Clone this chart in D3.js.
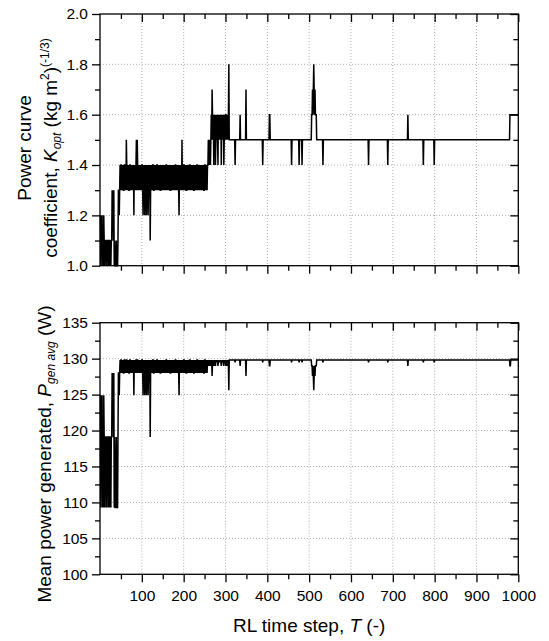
<!DOCTYPE html>
<html>
<head>
<meta charset="utf-8">
<script src="https://cdn.jsdelivr.net/npm/d3@7"></script>
<style>
body { margin: 0; background: #fff; }
svg { display: block; font-family: "Liberation Sans", Arial, sans-serif; }
.tick text { font-size: 15.5px; fill: #000; }
.tick line { stroke: #000; stroke-width: 1.3; }
.grid line { stroke: #b0b0b0; stroke-width: 1; stroke-dasharray: 1,2; }
.axis-title { font-size: 19px; fill: #000; }
</style>
</head>
<body>
<div class="chart"></div>
<script>
var width = 549;
var height = 641;
var plotLeft = 100, plotRight = 518.3;
var topPanel = {top: 14, bottom: 265.7};
var bottomPanel = {top: 322.7, bottom: 574.3};

// value of each code digit used in the step rows below
var kLevels = [1.0, 1.1, 1.2, 1.3, 1.4, 1.5, 1.6, 1.7, 1.8];
var powerLevels = [109.3, 119.1, 124.9, 125.6, 127.6, 128.0, 129.0, 129.5, 129.8];

// one digit per RL time step (T = 1..1000), 50 steps per row
var kRows = [
  "2021201021 0111010111 0110101132 3130100010 0013323434",
  "4343433443 4354343433 4434343434 2434345354 3434343434",
  "4324342343 2434234341 3434344334 3434344343 4343343434",
  "3434343443 4343434334 3434343434 4343434324 3434353434",
  "4343433434 3434434343 4343343434 3443434343 4343434334",
  "4343434454 5454565765 6465645656 5465656564 6565645656",
  "6565656855 5555555555 5545555555 5555655555 5555555575",
  "5555555555 5555555555 5555555555 5555555545 5555555555",
  "5555665555 5555555555 5555555555 5555555555 5555555555",
  "5555555455 5555555555 5555545555 5545555555 5555555555",
  "5555566767 8767666555 5555555555 5545555555 5555555555",
  "5555555555 5555555555 5555555555 5555555555 5555555555",
  "5555555555 5555555555 5555555555 5555555555 5455555555",
  "5555555555 5555555555 5555555555 5555555455 5555555555",
  "5555555555 5555555555 5555555555 5555565555 5555555555",
  "5555555555 5555555555 5545555555 5555555555 5555555545",
  "5555555555 5555555555 5555555555 5555555555 5555555555",
  "5555555555 5555555555 5555555555 5555555555 5555555555",
  "5555555555 5555555555 5555555555 5555555555 5555555555",
  "5555555555 5555555555 5555555556 6666666666 6666666666"
];
var powerRows = [
  "2021201021 0111010111 0110101152 5150100010 0015525858",
  "8585855885 8588585855 8858585858 2858588588 5858585858",
  "8528582585 2858258581 5858588558 5858588585 8585585858",
  "5858585885 8585858558 5858585858 8585858528 5858585858",
  "8585855858 5858858585 8585585858 5885858585 8585858558",
  "8585858686 8686878478 7678768787 8678787876 7878768787",
  "6868686388 8888888888 8878888888 8888688888 8888888848",
  "8888888888 8888888888 8888888888 8888888878 8888888888",
  "8888668888 8888888888 8888888888 8888888888 8888888888",
  "8888888788 8888888888 8888878888 8878888888 8888888888",
  "8888866464 3464666888 8888888888 8878888888 8888888888",
  "8888888888 8888888888 8888888888 8888888888 8888888888",
  "8888888888 8888888888 8888888888 8888888888 8788888888",
  "8888888888 8888888888 8888888888 8888888788 8888888888",
  "8888888888 8888888888 8888888888 8888868888 8888888888",
  "8888888888 8888888888 8878888888 8888888888 8888888878",
  "8888888888 8888888888 8888888888 8888888888 8888888888",
  "8888888888 8888888888 8888888888 8888888888 8888888888",
  "8888888888 8888888888 8888888888 8888888888 8888888888",
  "8888888888 8888888888 8888888886 6888888888 8888888888"
];

var xMajorTicks = [100, 200, 300, 400, 500, 600, 700, 800, 900, 1000];
var xMinorTicks = [50, 150, 250, 350, 450, 550, 650, 750, 850, 950];
var kMajorTicks = [1.0, 1.2, 1.4, 1.6, 1.8, 2.0];
var kMinorTicks = [1.1, 1.3, 1.5, 1.7, 1.9];
var powerMajorTicks = [100, 105, 110, 115, 120, 125, 130, 135];
var powerMinorTicks = [102.5, 107.5, 112.5, 117.5, 122.5, 127.5, 132.5];

function decodeRows(rows, levels) {
	return rows.join("").replace(/ /g, "").split("").map(function(c, i) {
		return {t: i + 1, v: levels[+c]};
	});
}

var svg = d3.select(".chart")
			.append("svg")
				.attr("width", width)
				.attr("height", height);
svg.append("rect").attr("width", width).attr("height", height).attr("fill", "#fff");

var x = d3.scaleLinear().domain([0, 1000]).range([plotLeft, plotRight]);

function dropDomain(g) { g.select(".domain").remove(); }

function drawPanel(panel, y, data, majorY, minorY, fmt, showXLabels) {
	var g = svg.append("g");
	//dotted grid
	var grid = g.append("g").attr("class", "grid");
	grid.selectAll("line.v")
		.data(xMajorTicks.filter(function(d) { return d < 1000; }))
		.enter().append("line")
			.attr("class", "v")
			.attr("x1", function(d) { return x(d); })
			.attr("x2", function(d) { return x(d); })
			.attr("y1", panel.top)
			.attr("y2", panel.bottom);
	grid.selectAll("line.h")
		.data(majorY.slice(1, -1))
		.enter().append("line")
			.attr("class", "h")
			.attr("x1", plotLeft)
			.attr("x2", plotRight)
			.attr("y1", function(d) { return y(d); })
			.attr("y2", function(d) { return y(d); });
	//the step series
	g.append("path")
		.datum(data)
		.attr("fill", "none")
		.attr("stroke", "#000")
		.attr("stroke-width", 1.5)
		.attr("stroke-linejoin", "miter")
		.attr("d", d3.line()
			.x(function(d) { return x(d.t); })
			.y(function(d) { return y(d.v); }));
	//left axis, ticks out
	g.append("g").attr("transform", "translate(" + plotLeft + ",0)")
		.call(d3.axisLeft(y).tickValues(majorY).tickSize(8).tickPadding(4).tickFormat(fmt))
		.call(dropDomain);
	g.append("g").attr("transform", "translate(" + plotLeft + ",0)")
		.call(d3.axisLeft(y).tickValues(minorY).tickSize(5).tickFormat(""))
		.call(dropDomain);
	//right axis, ticks in
	g.append("g").attr("transform", "translate(" + plotRight + ",0)")
		.call(d3.axisLeft(y).tickValues(majorY).tickSize(8).tickFormat(""))
		.call(dropDomain);
	g.append("g").attr("transform", "translate(" + plotRight + ",0)")
		.call(d3.axisLeft(y).tickValues(minorY).tickSize(5).tickFormat(""))
		.call(dropDomain);
	//bottom axis, ticks out
	g.append("g").attr("transform", "translate(0," + panel.bottom + ")")
		.call(d3.axisBottom(x).tickValues(xMajorTicks).tickSize(8).tickPadding(8)
			.tickFormat(showXLabels ? d3.format("d") : ""))
		.call(dropDomain);
	g.append("g").attr("transform", "translate(0," + panel.bottom + ")")
		.call(d3.axisBottom(x).tickValues(xMinorTicks).tickSize(5).tickFormat(""))
		.call(dropDomain);
	//top axis, ticks in
	g.append("g").attr("transform", "translate(0," + panel.top + ")")
		.call(d3.axisBottom(x).tickValues(xMajorTicks).tickSize(8).tickFormat(""))
		.call(dropDomain);
	g.append("g").attr("transform", "translate(0," + panel.top + ")")
		.call(d3.axisBottom(x).tickValues(xMinorTicks).tickSize(5).tickFormat(""))
		.call(dropDomain);
	//frame
	g.append("rect")
		.attr("x", plotLeft)
		.attr("y", panel.top)
		.attr("width", plotRight - plotLeft)
		.attr("height", panel.bottom - panel.top)
		.attr("fill", "none")
		.attr("stroke", "#000")
		.attr("stroke-width", 1.3);
}

var yK = d3.scaleLinear().domain([1.0, 2.0]).range([topPanel.bottom, topPanel.top]);
var yP = d3.scaleLinear().domain([100, 135]).range([bottomPanel.bottom, bottomPanel.top]);

drawPanel(topPanel, yK, decodeRows(kRows, kLevels), kMajorTicks, kMinorTicks, d3.format(".1f"), false);
drawPanel(bottomPanel, yP, decodeRows(powerRows, powerLevels), powerMajorTicks, powerMinorTicks, d3.format("d"), true);

//axis titles
svg.append("text")
	.attr("class", "axis-title")
	.attr("text-anchor", "middle")
	.attr("transform", "translate(31,148) rotate(-90)")
	.text("Power curve");
var kTitle = svg.append("text")
	.attr("class", "axis-title")
	.attr("text-anchor", "middle")
	.attr("transform", "translate(57,148) rotate(-90)");
kTitle.append("tspan").text("coefficient, ");
kTitle.append("tspan").attr("font-style", "italic").text("K");
kTitle.append("tspan").attr("font-style", "italic").attr("font-size", "12px").attr("dy", 4).text("opt");
kTitle.append("tspan").attr("dy", -4).text(" (kg m");
kTitle.append("tspan").attr("font-size", "12px").attr("dy", -8).text("2");
kTitle.append("tspan").attr("dy", 8).text(")");
kTitle.append("tspan").attr("font-size", "12px").attr("dy", -8).text("(-1/3)");

var pTitle = svg.append("text")
	.attr("class", "axis-title")
	.attr("text-anchor", "middle")
	.attr("transform", "translate(51,454) rotate(-90)");
pTitle.append("tspan").text("Mean power generated, ");
pTitle.append("tspan").attr("font-style", "italic").text("P");
pTitle.append("tspan").attr("font-style", "italic").attr("font-size", "12px").attr("dy", 4).text("gen avg");
pTitle.append("tspan").attr("dy", -4).text(" (W)");

var xTitle = svg.append("text")
	.attr("class", "axis-title")
	.attr("text-anchor", "middle")
	.attr("x", (plotLeft + plotRight) / 2)
	.attr("y", 632);
xTitle.append("tspan").text("RL time step, ");
xTitle.append("tspan").attr("font-style", "italic").text("T");
xTitle.append("tspan").text(" (-)");
</script>
</body>
</html>
